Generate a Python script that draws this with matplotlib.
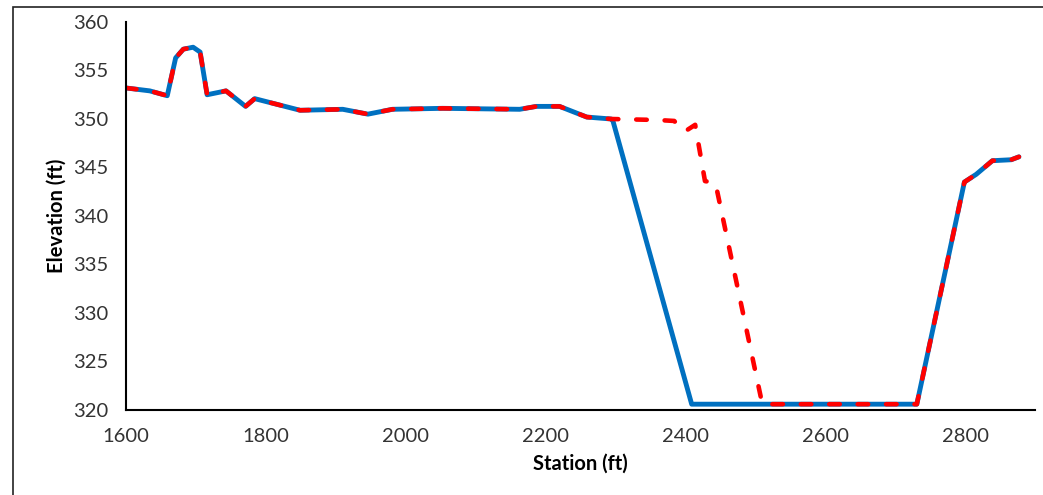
import matplotlib
matplotlib.use("Agg")
import matplotlib.pyplot as plt
from matplotlib.patches import Rectangle

# Shared ground profile (before the channel)
common_x = [1600, 1634, 1659, 1671, 1682, 1696, 1706, 1716, 1743, 1771, 1784, 1849, 1910,
            1946, 1981, 2053, 2163, 2187, 2220, 2259, 2294]
common_y = [353.2, 352.9, 352.4, 356.3, 357.2, 357.4, 356.9, 352.5, 352.9, 351.3, 352.1,
            350.9, 351.0, 350.5, 351.0, 351.1, 351.0, 351.3, 351.3, 350.2, 350.0]

# Right bank (shared)
bank_x = [2731, 2799, 2816, 2839, 2866, 2877]
bank_y = [320.6, 343.5, 344.3, 345.7, 345.8, 346.1]

# Existing (blue) channel section
exist_x = [2296, 2409]
exist_y = [349.9, 320.6]

# Proposed (red dashed) channel section
prop_x = [2359, 2384, 2399, 2414, 2428, 2443, 2510]
prop_y = [349.9, 349.8, 348.7, 349.4, 343.6, 343.4, 320.6]

blue_x = common_x + exist_x + bank_x
blue_y = common_y + exist_y + bank_y
red_x = common_x + prop_x + bank_x
red_y = common_y + prop_y + bank_y

plt.rcParams['font.family'] = ['Lato', 'DejaVu Sans']

fig = plt.figure(figsize=(10.43, 4.95), dpi=100)
ax = fig.add_axes([126/1043, 1 - 410/495, (1035-126)/1043, (410-22)/495])

ax.plot(blue_x, blue_y, color='#0070C0', lw=3.5, solid_joinstyle='round', solid_capstyle='round')
ax.plot(red_x, red_y, color='#FF0000', lw=3.3, dashes=(2.3, 3.9), dash_capstyle='round')

ax.set_xlim(1600, 2900)
ax.set_ylim(320, 360)
ax.set_xticks([1600, 1800, 2000, 2200, 2400, 2600, 2800])
ax.set_yticks(list(range(320, 361, 5)))
for s in ['top', 'right']:
    ax.spines[s].set_visible(False)
for s in ['left', 'bottom']:
    ax.spines[s].set_linewidth(1.5)
    ax.spines[s].set_color('black')
ax.tick_params(axis='y', length=0, pad=13, labelsize=14.5, labelcolor='#333333')
ax.tick_params(axis='x', length=0, pad=13, labelsize=14.5, labelcolor='#333333')
ax.set_xlabel('Station (ft)', fontsize=14.5, fontweight='bold', labelpad=6)
ax.set_ylabel('Elevation (ft)', fontsize=14.5, fontweight='bold', labelpad=4)

fig.patches.append(Rectangle((13/1043, -0.1), 1.2, 1 - 7/495 + 0.1, transform=fig.transFigure,
                             fill=False, edgecolor='#222222', lw=1.2))

fig.savefig('out.png', dpi=100)
